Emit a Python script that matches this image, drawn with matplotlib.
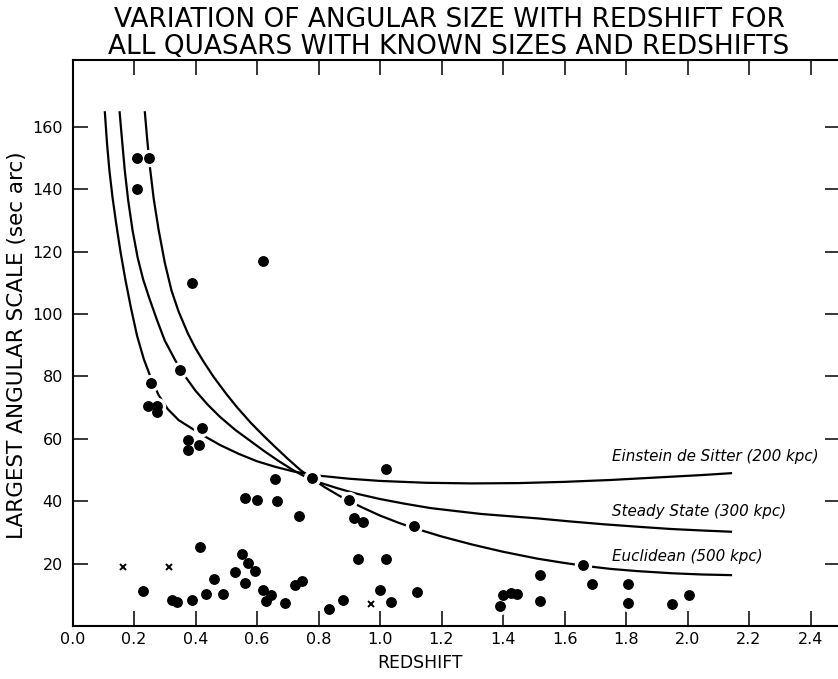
import matplotlib
matplotlib.use("Agg")
import matplotlib.pyplot as plt

# ---- data ----
dot_z = [0.21, 0.25, 0.21, 0.39, 0.62, 0.35, 0.255, 0.245, 0.275, 0.275,
         0.42, 0.375, 0.375, 0.41, 0.66, 0.56, 0.60, 0.665, 0.735, 0.78,
         0.415, 0.55, 0.57, 0.595, 0.53, 0.56, 0.46, 0.23, 0.325, 0.34,
         0.39, 0.435, 0.49, 0.62, 0.645, 0.63, 0.69, 0.725, 0.745, 1.02,
         0.90, 0.915, 0.945, 1.11, 0.93, 1.02, 1.00, 1.12, 0.88, 0.835,
         1.035, 1.52, 1.52, 1.39, 1.40, 1.425, 1.445, 1.66, 1.69, 1.805,
         1.805, 1.95, 2.005]
dot_theta = [150, 150, 140, 110, 117, 82, 78, 70.5, 70.5, 68.5,
             63.5, 59.5, 56.5, 58, 47, 41, 40.5, 40.2, 35.3, 47.5,
             25.3, 23, 20.3, 17.5, 17.3, 13.7, 15.2, 11.2, 8.4, 7.6,
             8.2, 10.2, 10.4, 11.4, 9.8, 8, 7.5, 13.3, 14.3, 50.3,
             40.5, 34.6, 33.4, 32, 21.5, 21.5, 11.5, 10.9, 8.3, 5.3,
             7.8, 16.5, 8.1, 6.5, 9.9, 10.7, 10.4, 19.6, 13.5, 13.4,
             7.5, 7, 9.8]

cross_z = [0.165, 0.315, 0.97]
cross_theta = [19, 19, 7]

eds_z = [0.105, 0.112, 0.120, 0.130, 0.142, 0.156, 0.172, 0.190, 0.210, 0.232,
         0.255, 0.280, 0.310, 0.345, 0.385, 0.43, 0.48, 0.54, 0.60, 0.66,
         0.72, 0.80, 0.90, 1.00, 1.15, 1.30, 1.45, 1.60, 1.75, 1.90,
         2.05, 2.145]
eds_theta = [165, 155, 146, 137.5, 129, 120, 111, 102, 93, 85.5,
             79.5, 74, 69.5, 66, 63.5, 60.8, 58, 55.2, 52.8, 51,
             49.5, 48.2, 47.2, 46.5, 45.9, 45.7, 45.8, 46.2, 46.8, 47.6,
             48.4, 49]

ss_z = [0.153, 0.160, 0.170, 0.181, 0.195, 0.212, 0.230, 0.250, 0.275, 0.300,
        0.335, 0.362, 0.40, 0.44, 0.48, 0.53, 0.58, 0.62, 0.67, 0.72,
        0.76, 0.806, 0.86, 0.92, 1.00, 1.08, 1.164, 1.25, 1.33, 1.42,
        1.511, 1.62, 1.728, 1.84, 1.945, 2.05, 2.145]
ss_theta = [165, 157, 146, 136.5, 127, 118, 111, 105, 98, 91.5,
            85, 80.6, 75.4, 70.9, 67, 62.8, 59.2, 56.3, 52.9, 49.8,
            47.7, 45.9, 44.2, 42.5, 40.7, 39.2, 37.8, 36.8, 35.9, 35.2,
            34.5, 33.5, 32.6, 31.8, 31.1, 30.6, 30.2]

euc_z = [0.235, 0.242, 0.250, 0.264, 0.280, 0.300, 0.322, 0.345, 0.375, 0.40,
         0.427, 0.46, 0.50, 0.536, 0.58, 0.62, 0.66, 0.70, 0.741, 0.78,
         0.82, 0.877, 0.94, 1.00, 1.06, 1.11, 1.20, 1.30, 1.40, 1.511,
         1.60, 1.663, 1.75, 1.836, 1.95, 2.05, 2.145]
euc_theta = [165, 157, 148.5, 137, 127, 116.5, 107.5, 100.8, 93.8, 89,
             84.6, 79.7, 74.4, 70, 65.1, 61.1, 57.3, 53.6, 50, 47.2,
             44.5, 41.2, 38.1, 35.4, 33.1, 31.4, 28.7, 26.1, 23.8, 21.6,
             20.2, 19.3, 18.3, 17.6, 16.9, 16.5, 16.3]

curve_labels = ["Einstein de Sitter (200 kpc)", "Steady State (300 kpc)",
                "Euclidean (500 kpc)"]
label_theta = [54.2, 36.6, 22.4]

xticks = [0.0, 0.2, 0.4, 0.6, 0.8, 1.0, 1.2, 1.4, 1.6, 1.8, 2.0, 2.2, 2.4]
xtick_labels = ["0.0", "0.2", "0.4", "0.6", "0.8", "1.0", "1.2", "1.4",
                "1.6", "1.8", "2.0", "2.2", "2.4"]
yticks = [20, 40, 60, 80, 100, 120, 140, 160]

# ---- figure ----
W, H = 838, 679
fig = plt.figure(figsize=(W / 100, H / 100), dpi=100)
ax_l, ax_r, ax_t, ax_b = 72.5, 840, 60, 626
ax = fig.add_axes([ax_l / W, (H - ax_b) / H, (ax_r - ax_l) / W, (ax_b - ax_t) / H])

ax.set_xlim(0, (ax_r - ax_l) / 307.5)
ax.set_ylim(0, (ax_b - ax_t) / 3.12)

for zs, ts in [(eds_z, eds_theta), (ss_z, ss_theta), (euc_z, euc_theta)]:
    ax.plot(zs, ts, color="black", lw=1.6, zorder=2, solid_capstyle="butt",
            solid_joinstyle="round")

# white halos that break the curves around dots
ax.plot(dot_z, dot_theta, "o", ms=11.5, color="white", zorder=3)
ax.plot(dot_z, dot_theta, "o", ms=6.8, color="black", mec="black", zorder=4)
ax.plot(cross_z, cross_theta, "x", ms=4.5, mew=1.4, color="black", zorder=4)

for lab, th in zip(curve_labels, label_theta):
    ax.text(1.755, th, lab, style="italic", fontsize=10.9, va="center",
            ha="left", color="black")

ax.set_xticks(xticks)
ax.set_xticklabels(xtick_labels)
ax.set_yticks(yticks)
ax.tick_params(axis="both", direction="in", length=11, width=1.1,
               labelsize=11.5, top=True, right=True, color="black")
ax.tick_params(axis="x", pad=4)
ax.tick_params(axis="y", pad=7)
for s in ["left", "bottom", "top"]:
    ax.spines[s].set_linewidth(1.5)
ax.spines["right"].set_visible(False)

fig.text(449 / W, 1 - 20 / H, "VARIATION OF ANGULAR SIZE WITH REDSHIFT FOR",
         ha="center", va="center", fontsize=19)
fig.text(449 / W, 1 - 47 / H, "ALL QUASARS WITH KNOWN SIZES AND REDSHIFTS",
         ha="center", va="center", fontsize=19)
fig.text(420 / W, 1 - 663 / H, "REDSHIFT", ha="center", va="center",
         fontsize=12.4)
fig.text(17 / W, 1 - 345 / H, "LARGEST ANGULAR SCALE (sec arc)", ha="center",
         va="center", rotation=90, fontsize=15.5)

fig.savefig("out.png", dpi=100)
